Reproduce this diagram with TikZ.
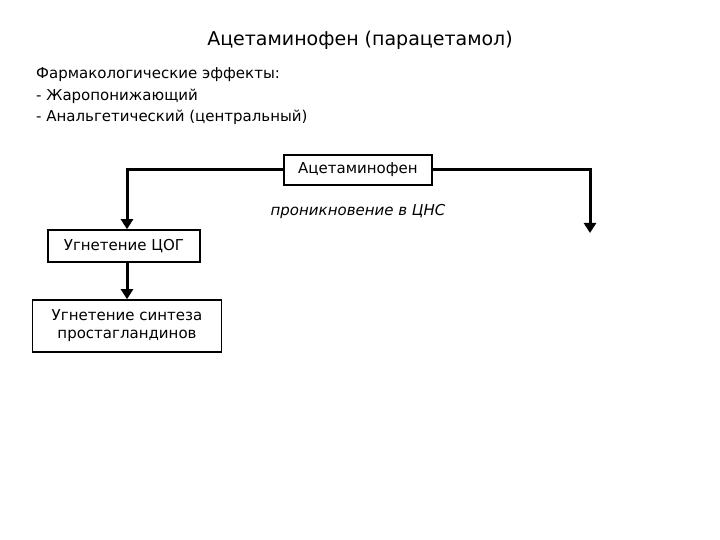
\documentclass[tikz,border=0pt]{standalone}
\usepackage{fontspec}
\setmainfont{DejaVu Sans}
\usetikzlibrary{arrows.meta}
\begin{document}
\begin{tikzpicture}[x=1pt,y=-1pt,
  box/.style={draw,line width=1.6pt,align=center,font=\fontsize{15}{18}\selectfont,inner sep=0pt},
  conn/.style={line width=3pt,-{Triangle[length=10pt,width=12pt]}},
  txt/.style={font=\fontsize{15}{18}\selectfont,anchor=west,inner sep=0pt}]
\useasboundingbox (0,0) rectangle (720,540);
\node[font=\fontsize{19}{22}\selectfont] (title) at (360,40) {Ацетаминофен (парацетамол)};
\node[txt] (t1) at (36,75) {Фармакологические эффекты:};
\node[txt] (t2) at (36,96) {- Жаропонижающий};
\node[txt] (t3) at (36,117) {- Анальгетический (центральный)};
\node[box,minimum width=148pt,minimum height=30pt] (a) at (358,170) {Ацетаминофен};
\coordinate (re) at (590,233);
\node[font=\fontsize{15}{18}\selectfont\itshape] (p) at (358,211) {проникновение в ЦНС};
\node[box,minimum width=152pt,minimum height=32pt] (b) at (124,246) {Угнетение ЦОГ};
\node[box,minimum width=189pt,minimum height=52pt] (c) at (127,326) {Угнетение синтеза\\простагландинов};
\draw[conn] (a.west) -| ([xshift=3pt]b.north);
\draw[conn] (a.east) -| (re);
\draw[conn] ([xshift=3pt]b.south) -- ([xshift=3pt]b.south |- c.north);
\end{tikzpicture}
\end{document}
